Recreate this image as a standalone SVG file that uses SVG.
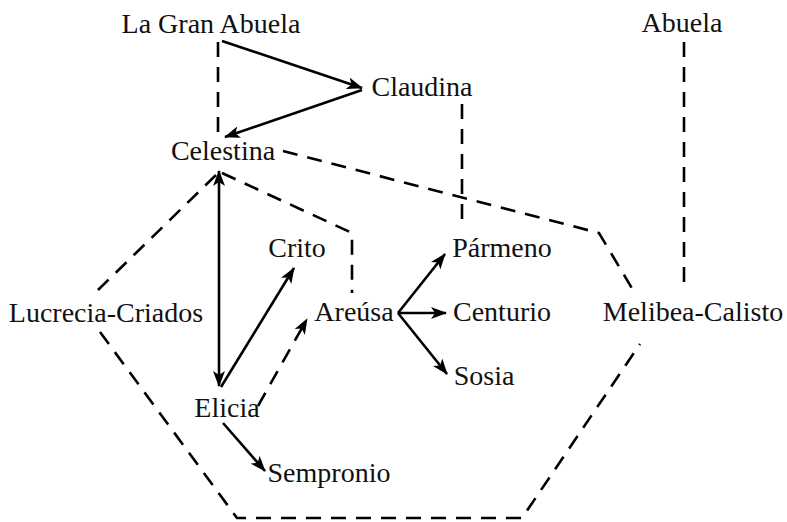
<svg xmlns="http://www.w3.org/2000/svg" width="787" height="522" viewBox="0 0 787 522">
<style>
.lbl{font-family:"Liberation Serif","Times New Roman",serif;font-size:28px;fill:#111;text-anchor:middle}
.s{fill:none;stroke:#000;stroke-width:2.6}
.d{fill:none;stroke:#000;stroke-width:2.6;stroke-dasharray:15 10}
</style>
<defs>
<marker id="ah" viewBox="0 0 16 12" refX="15" refY="6" markerWidth="16" markerHeight="12" markerUnits="userSpaceOnUse" orient="auto-start-reverse">
<path d="M0,0 L16,6 L0,12 L4,6 z" fill="#000"/>
</marker>
</defs>
<rect width="787" height="522" fill="#fff"/>
<g id="connectors">
<path class="s" d="M222,41 L362,88" marker-end="url(#ah)"/>
<path class="s" d="M362,90 L225,137" marker-end="url(#ah)"/>
<path class="d" d="M218,42 L218,135"/>
<path class="d" d="M462,104 L462,224"/>
<path class="d" d="M283,151 L599,233 L633,290"/>
<path class="d" d="M222,173 L352,233 L352,293"/>
<path class="s" d="M219,171 L219,386" marker-start="url(#ah)" marker-end="url(#ah)"/>
<path class="s" d="M221,387 L294,268" marker-end="url(#ah)"/>
<path class="d" d="M258,406 L307,319" marker-end="url(#ah)"/>
<path class="s" d="M398,313 L445,254" marker-end="url(#ah)"/>
<path class="s" d="M398,313 L446,313" marker-end="url(#ah)"/>
<path class="s" d="M398,313 L447,374" marker-end="url(#ah)"/>
<path class="s" d="M223,423 L265,471" marker-end="url(#ah)"/>
<path class="d" d="M216,175 L98,290"/>
<path class="d" d="M100,332 L237,518 L522,518 L640,344"/>
<path class="d" d="M684,42 L684,289"/>
</g>
<g id="n-lagranabuela"><text class="lbl" x="211" y="33">La Gran Abuela</text></g>
<g id="n-abuela"><text class="lbl" x="682" y="32">Abuela</text></g>
<g id="n-claudina"><text class="lbl" x="422" y="96">Claudina</text></g>
<g id="n-celestina"><text class="lbl" x="223" y="160">Celestina</text></g>
<g id="n-crito"><text class="lbl" x="297" y="257">Crito</text></g>
<g id="n-parmeno"><text class="lbl" x="502" y="257">Pármeno</text></g>
<g id="n-lucrecia"><text class="lbl" x="106" y="322">Lucrecia-Criados</text></g>
<g id="n-areusa"><text class="lbl" x="354" y="321">Areúsa</text></g>
<g id="n-centurio"><text class="lbl" x="502" y="321">Centurio</text></g>
<g id="n-melibea"><text class="lbl" x="693" y="321">Melibea-Calisto</text></g>
<g id="n-sosia"><text class="lbl" x="484" y="385">Sosia</text></g>
<g id="n-elicia"><text class="lbl" x="227" y="417">Elicia</text></g>
<g id="n-sempronio"><text class="lbl" x="329" y="482">Sempronio</text></g>
</svg>
